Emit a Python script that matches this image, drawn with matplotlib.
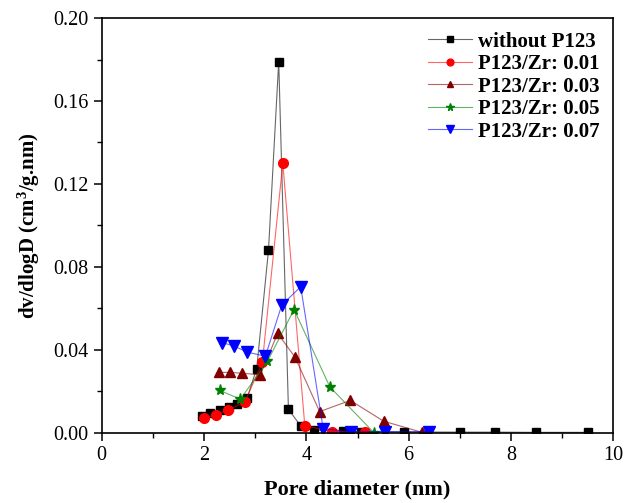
import matplotlib
matplotlib.use("Agg")
import matplotlib.pyplot as plt
from matplotlib.colors import to_rgba
from matplotlib.ticker import MultipleLocator

plt.rcParams['font.family'] = ['Liberation Serif', 'DejaVu Serif']
plt.rcParams['mathtext.fontset'] = 'custom'
plt.rcParams['mathtext.rm'] = 'Liberation Serif'
plt.rcParams['mathtext.bf'] = 'Liberation Serif:bold'

# without P123
x_none = [1.97, 2.12, 2.31, 2.49, 2.65, 2.84, 3.03, 3.26, 3.46, 3.65, 3.89, 4.15, 4.71, 5.07, 5.90, 7.00, 7.68, 8.49, 9.50]
y_none = [0.0082, 0.0095, 0.011, 0.0124, 0.014, 0.0167, 0.031, 0.088, 0.179, 0.0114, 0.0034, 0.0015, 0.0008, 0.0006, 0.0005, 0.0004, 0.0004, 0.0003, 0.0003]
# P123/Zr 0.01
x_01 = [2.00, 2.24, 2.47, 2.80, 3.14, 3.54, 3.97, 4.51, 5.14]
y_01 = [0.0072, 0.0088, 0.011, 0.015, 0.034, 0.130, 0.0035, 0.0007, 0.0005]
# P123/Zr 0.03
x_03 = [2.29, 2.51, 2.75, 3.10, 3.44, 3.78, 4.26, 4.86, 5.51, 6.26]
y_03 = [0.0292, 0.0292, 0.0288, 0.028, 0.048, 0.0365, 0.0103, 0.0157, 0.0057, 0.0003]
# P123/Zr 0.05
x_05 = [2.31, 2.71, 3.24, 3.76, 4.46, 5.32]
y_05 = [0.0205, 0.0163, 0.0345, 0.0595, 0.0222, 0.0002]
# P123/Zr 0.07
x_07 = [2.36, 2.58, 2.84, 3.20, 3.52, 3.89, 4.33, 4.87, 5.53, 6.39]
y_07 = [0.0435, 0.042, 0.039, 0.037, 0.0617, 0.0705, 0.002, 0.0006, 0.0006, 0.0006]

labels = ['without P123', 'P123/Zr: 0.01', 'P123/Zr: 0.03', 'P123/Zr: 0.05', 'P123/Zr: 0.07']
colors = ['black', '#ff0000', '#800000', '#008000', '#0000ff']
markers = ['s', 'o', '^', '*', 'v']
msizes = [6, 7, 7, 8, 8]

fig = plt.figure(figsize=(6.25, 5.03), dpi=100)
ax = fig.add_axes([0.1627, 0.1392, 0.8186, 0.8250])

series = [(x_none, y_none), (x_01, y_01), (x_03, y_03), (x_05, y_05), (x_07, y_07)]
for (xs, ys), lab, c, m, ms in zip(series, labels, colors, markers, msizes):
    ax.plot(xs, ys, color=to_rgba(c, 0.6), lw=0.8, marker=m, ms=ms,
            mec=c, mfc=c, label=lab)

ax.set_xlim(0, 10)
ax.set_ylim(0, 0.20)
ax.xaxis.set_major_locator(MultipleLocator(2))
ax.xaxis.set_minor_locator(MultipleLocator(1))
ax.yaxis.set_major_locator(MultipleLocator(0.04))
ax.yaxis.set_minor_locator(MultipleLocator(0.02))
ax.yaxis.set_major_formatter(plt.FuncFormatter(lambda v, p: f"{v:.2f}"))
ax.tick_params(which='major', direction='out', length=6, width=1.1, labelsize=14.5)
ax.tick_params(which='minor', direction='out', length=3.5, width=1.0)
for s in ax.spines.values():
    s.set_linewidth(1.2)

ax.set_xlabel('Pore diameter (nm)', fontsize=16, fontweight='bold', labelpad=10)
ax.set_ylabel(r'dv/dlogD (cm$\mathbf{^3}$/g.nm)', fontsize=15, fontweight='bold', labelpad=8)

leg = ax.legend(loc='upper right', frameon=False, prop={'weight': 'bold', 'size': 15},
                handlelength=2.1, handletextpad=0.3, labelspacing=0.12,
                borderaxespad=0.25, markerscale=0.7)

fig.savefig('out.png', dpi=100)
